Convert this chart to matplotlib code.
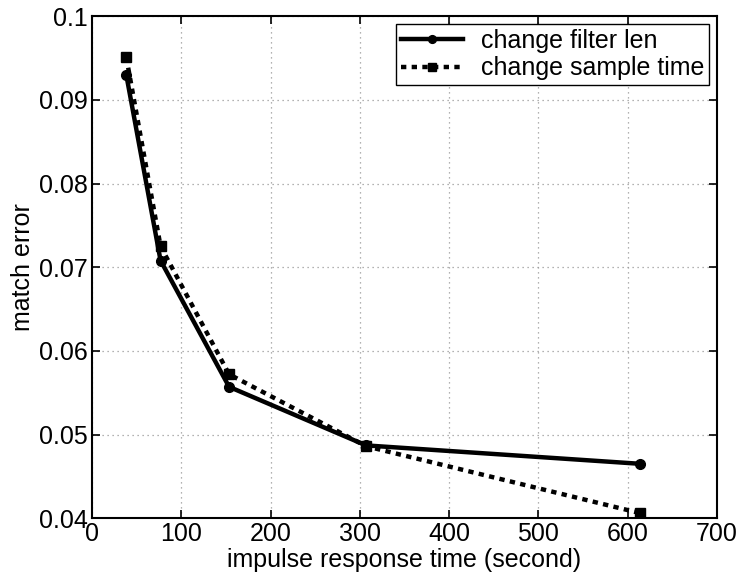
import matplotlib.pyplot as plt

plt.rcParams["font.family"] = ["Liberation Sans", "DejaVu Sans"]

impulse_time = [38.4, 76.8, 153.6, 307.2, 614.4]
err_filter_len = [0.0930, 0.0708, 0.0557, 0.0487, 0.0465]
err_sample_time = [0.0951, 0.0725, 0.0572, 0.0486, 0.0406]


def main():
    fig = plt.figure(figsize=(7.42, 5.79), dpi=100)
    ax = fig.add_axes([0.124, 0.105, 0.842, 0.867])

    ax.plot(impulse_time, err_filter_len, "-o", color="k", lw=3.2, ms=7,
            label="change filter len")
    ax.plot(impulse_time, err_sample_time, ":s", color="k", lw=3.2, ms=6.5,
            dashes=(1.2, 1.2), label="change sample time")

    ax.set_xlim(0, 700)
    ax.set_ylim(0.04, 0.1)
    ax.set_xticks(range(0, 701, 100))
    ax.set_yticks([0.04, 0.05, 0.06, 0.07, 0.08, 0.09, 0.1])
    ax.set_yticklabels(["0.04", "0.05", "0.06", "0.07", "0.08", "0.09", "0.1"])
    ax.tick_params(direction="in", top=True, right=True, labelsize=18,
                   width=1.2, length=6, pad=3)
    ax.grid(True, linestyle=(0, (1, 3)), color="0.6", lw=0.9)
    for s in ax.spines.values():
        s.set_linewidth(1.5)

    ax.set_xlabel("impulse response time (second)", fontsize=18, labelpad=1)
    ax.set_ylabel("match error", fontsize=18, labelpad=3)

    leg = ax.legend(loc="upper right", fontsize=18, fancybox=False,
                    framealpha=1, edgecolor="k", handlelength=2.5,
                    markerscale=0.8, borderaxespad=0.3, borderpad=0.2,
                    labelspacing=0.15, handletextpad=0.7)
    leg.get_frame().set_linewidth(1.0)

    fig.savefig("out.png", dpi=100)


if __name__ == "__main__":
    main()
